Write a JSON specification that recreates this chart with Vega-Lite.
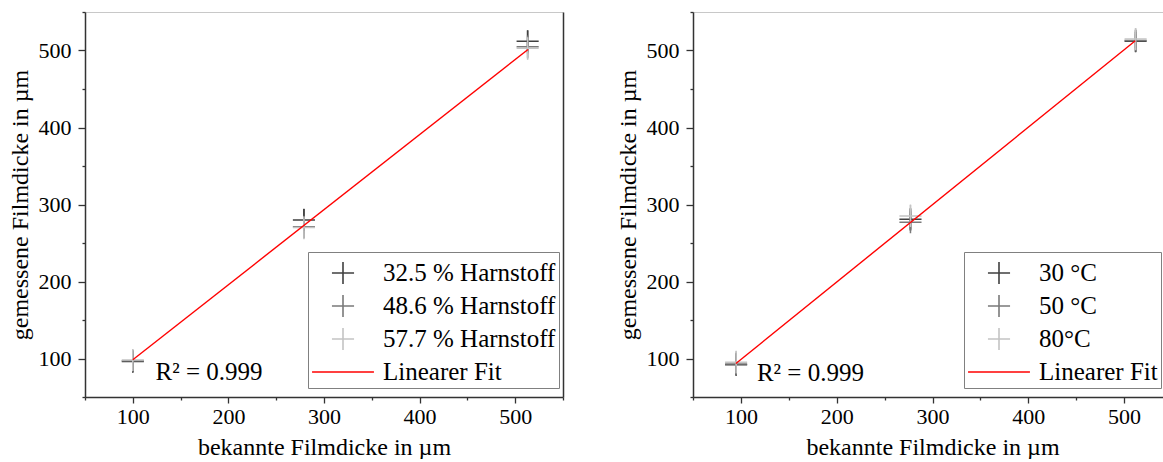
{
  "$schema": "https://vega.github.io/schema/vega-lite/v6.json",
  "padding": {"left": 8, "top": 11, "right": 0, "bottom": 0},
  "background": "white",
  "spacing": 52,
  "datasets": {
    "harnstoff": [
      {"series": "32.5 % Harnstoff", "k": 100, "m": 96, "lo": 82, "hi": 106},
      {"series": "32.5 % Harnstoff", "k": 279, "m": 280, "lo": 266, "hi": 294},
      {"series": "32.5 % Harnstoff", "k": 513, "m": 512, "lo": 500, "hi": 526},
      {"series": "48.6 % Harnstoff", "k": 100, "m": 97, "lo": 88, "hi": 104},
      {"series": "48.6 % Harnstoff", "k": 279, "m": 271, "lo": 262, "hi": 282},
      {"series": "48.6 % Harnstoff", "k": 513, "m": 505, "lo": 496, "hi": 514},
      {"series": "57.7 % Harnstoff", "k": 100, "m": 98, "lo": 87, "hi": 108},
      {"series": "57.7 % Harnstoff", "k": 279, "m": 270, "lo": 255, "hi": 284},
      {"series": "57.7 % Harnstoff", "k": 513, "m": 503, "lo": 488, "hi": 516}
    ],
    "temperatur": [
      {"series": "30 °C", "k": 95, "m": 92, "lo": 78, "hi": 104},
      {"series": "30 °C", "k": 277, "m": 281, "lo": 266, "hi": 294},
      {"series": "30 °C", "k": 512, "m": 512, "lo": 498, "hi": 524},
      {"series": "50 °C", "k": 95, "m": 93, "lo": 86, "hi": 101},
      {"series": "50 °C", "k": 277, "m": 277, "lo": 268, "hi": 288},
      {"series": "50 °C", "k": 512, "m": 513, "lo": 503, "hi": 521},
      {"series": "80°C", "k": 95, "m": 95, "lo": 84, "hi": 110},
      {"series": "80°C", "k": 277, "m": 285, "lo": 270, "hi": 300},
      {"series": "80°C", "k": 512, "m": 515, "lo": 502, "hi": 529}
    ]
  },
  "config": {
    "view": {"stroke": null},
    "font": "Liberation Serif",
    "axis": {
      "grid": false,
      "domainColor": "#333333",
      "domainWidth": 1.5,
      "tickColor": "#333333",
      "tickWidth": 1.3,
      "labelFont": "Liberation Serif",
      "labelFontSize": 22,
      "labelColor": "black",
      "titleFont": "Liberation Serif",
      "titleFontSize": 24,
      "titleFontWeight": "normal",
      "titleColor": "black"
    },
    "legend": {
      "orient": "none",
      "labelFont": "Liberation Serif",
      "labelFontSize": 25,
      "labelColor": "black",
      "labelLimit": 400,
      "strokeColor": "#808080",
      "fillColor": "white",
      "padding": 3,
      "rowPadding": 0,
      "symbolSize": 1156,
      "symbolStrokeWidth": 1.6,
      "symbolOffset": 14,
      "labelOffset": 22
    }
  },
  "resolve": {
    "scale": {"color": "independent", "shape": "independent"},
    "legend": {"color": "independent", "shape": "independent"}
  },
  "hconcat": [
    {
      "width": 478,
      "height": 385,
      "resolve": {"axis": {"x": "independent", "y": "independent"}},
      "layer": [
        {
          "data": {"name": "harnstoff"},
          "mark": {"type": "rule", "strokeWidth": 1.5},
          "encoding": {
            "x": {"field": "k", "type": "quantitative", "scale": {"domain": [50, 550], "nice": false, "zero": false},
              "axis": {"orient": "bottom", "title": "bekannte Filmdicke in µm", "values": [50,100,150,200,250,300,350,400,450,500,550],
                "labelExpr": "datum.value % 100 === 0 ? datum.label : ''",
                "tickSize": {"condition": {"test": "datum.value % 100 === 0", "value": 6}, "value": 3},
                "labelPadding": 3, "titlePadding": 8, "labelFlush": false}},
            "y": {"field": "lo", "type": "quantitative", "scale": {"domain": [50, 550], "nice": false, "zero": false},
              "axis": {"orient": "left", "title": "gemessene Filmdicke in µm", "values": [50,100,150,200,250,300,350,400,450,500,550],
                "labelExpr": "datum.value % 100 === 0 ? datum.label : ''",
                "tickSize": {"condition": {"test": "datum.value % 100 === 0", "value": 7}, "value": 3},
                "labelPadding": 7, "titlePadding": 6, "labelFlush": false}},
            "y2": {"field": "hi"},
            "color": {"field": "series", "type": "nominal",
              "scale": {"domain": ["32.5 % Harnstoff", "48.6 % Harnstoff", "57.7 % Harnstoff", "Linearer Fit"], "range": ["#404040", "#7a7a7a", "#c4c4c4", "#ff0000"]}}
          }
        },
        {
          "data": {"name": "harnstoff"},
          "mark": {"type": "point", "filled": false, "opacity": 1, "strokeWidth": 1.5, "size": 1156},
          "encoding": {
            "x": {"field": "k", "type": "quantitative", "axis": {"orient": "top", "title": null, "labels": false, "ticks": false, "domainColor": "#c8c8c8", "domainWidth": 1}},
            "y": {"field": "m", "type": "quantitative", "axis": {"orient": "right", "title": null, "labels": false, "ticks": false, "domainColor": "#333333"}},
            "color": {"field": "series", "type": "nominal", "legend": {"title": null, "legendX": 223, "legendY": 240}},
            "shape": {"field": "series", "type": "nominal",
              "scale": {"domain": ["32.5 % Harnstoff", "48.6 % Harnstoff", "57.7 % Harnstoff", "Linearer Fit"],
                "range": ["M-0.65,0H0.65M0,-0.65V0.65", "M-0.65,0H0.65M0,-0.65V0.65", "M-0.65,0H0.65M0,-0.65V0.65", "M-1.82,0H1.82"]},
              "legend": {"title": null, "legendX": 223, "legendY": 240}}
          }
        },
        {
          "data": {"values": [
            {"series": "Linearer Fit", "fx": 100, "fy": 98.4},
            {"series": "Linearer Fit", "fx": 513.4, "fy": 501.3}
          ]},
          "mark": {"type": "line", "strokeWidth": 1.4},
          "encoding": {
            "x": {"field": "fx", "type": "quantitative", "axis": null},
            "y": {"field": "fy", "type": "quantitative", "axis": null},
            "color": {"field": "series", "type": "nominal"}
          }
        },
        {
          "data": {"values": [{"tx": 123.7, "ty": 72, "label": "R² = 0.999"}]},
          "mark": {"type": "text", "align": "left", "baseline": "alphabetic", "font": "Liberation Serif", "fontSize": 25, "color": "black"},
          "encoding": {
            "x": {"field": "tx", "type": "quantitative", "axis": null},
            "y": {"field": "ty", "type": "quantitative", "axis": null},
            "text": {"field": "label"}
          }
        }
      ]
    },
    {
      "width": 479,
      "height": 385,
      "resolve": {"axis": {"x": "independent", "y": "independent"}},
      "layer": [
        {
          "data": {"name": "temperatur"},
          "mark": {"type": "rule", "strokeWidth": 1.5},
          "encoding": {
            "x": {"field": "k", "type": "quantitative", "scale": {"domain": [50, 550], "nice": false, "zero": false},
              "axis": {"orient": "bottom", "title": "bekannte Filmdicke in µm", "values": [50,100,150,200,250,300,350,400,450,500,550],
                "labelExpr": "datum.value % 100 === 0 ? datum.label : ''",
                "tickSize": {"condition": {"test": "datum.value % 100 === 0", "value": 6}, "value": 3},
                "labelPadding": 3, "titlePadding": 8, "labelFlush": false}},
            "y": {"field": "lo", "type": "quantitative", "scale": {"domain": [50, 550], "nice": false, "zero": false},
              "axis": {"orient": "left", "title": "gemessene Filmdicke in µm", "values": [50,100,150,200,250,300,350,400,450,500,550],
                "labelExpr": "datum.value % 100 === 0 ? datum.label : ''",
                "tickSize": {"condition": {"test": "datum.value % 100 === 0", "value": 7}, "value": 3},
                "labelPadding": 7, "titlePadding": 6, "labelFlush": false}},
            "y2": {"field": "hi"},
            "color": {"field": "series", "type": "nominal",
              "scale": {"domain": ["30 °C", "50 °C", "80°C", "Linearer Fit"], "range": ["#404040", "#7a7a7a", "#c4c4c4", "#ff0000"]}}
          }
        },
        {
          "data": {"name": "temperatur"},
          "mark": {"type": "point", "filled": false, "opacity": 1, "strokeWidth": 1.5, "size": 1156},
          "encoding": {
            "x": {"field": "k", "type": "quantitative", "axis": {"orient": "top", "title": null, "labels": false, "ticks": false, "domainColor": "#c8c8c8", "domainWidth": 1}},
            "y": {"field": "m", "type": "quantitative", "axis": {"orient": "right", "title": null, "labels": false, "ticks": false, "domainColor": "#333333"}},
            "color": {"field": "series", "type": "nominal", "legend": {"title": null, "legendX": 271, "legendY": 240}},
            "shape": {"field": "series", "type": "nominal",
              "scale": {"domain": ["30 °C", "50 °C", "80°C", "Linearer Fit"],
                "range": ["M-0.65,0H0.65M0,-0.65V0.65", "M-0.65,0H0.65M0,-0.65V0.65", "M-0.65,0H0.65M0,-0.65V0.65", "M-1.82,0H1.82"]},
              "legend": {"title": null, "legendX": 271, "legendY": 240}}
          }
        },
        {
          "data": {"values": [
            {"series": "Linearer Fit", "fx": 94.8, "fy": 93.5},
            {"series": "Linearer Fit", "fx": 511.7, "fy": 512.7}
          ]},
          "mark": {"type": "line", "strokeWidth": 1.4},
          "encoding": {
            "x": {"field": "fx", "type": "quantitative", "axis": null},
            "y": {"field": "fy", "type": "quantitative", "axis": null},
            "color": {"field": "series", "type": "nominal"}
          }
        },
        {
          "data": {"values": [{"tx": 116.7, "ty": 71, "label": "R² = 0.999"}]},
          "mark": {"type": "text", "align": "left", "baseline": "alphabetic", "font": "Liberation Serif", "fontSize": 25, "color": "black"},
          "encoding": {
            "x": {"field": "tx", "type": "quantitative", "axis": null},
            "y": {"field": "ty", "type": "quantitative", "axis": null},
            "text": {"field": "label"}
          }
        }
      ]
    }
  ]
}
